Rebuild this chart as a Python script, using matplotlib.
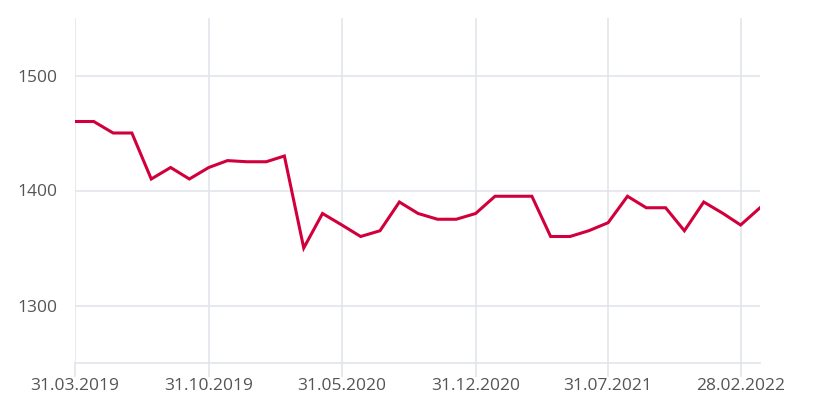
import matplotlib.pyplot as plt
import matplotlib.dates as mdates
import pandas as pd

# monthly values, end of month, 03.2019 .. 03.2022
dates = pd.date_range('2019-03-31', periods=37, freq='ME')
values = [1460, 1460, 1450, 1450, 1410, 1420, 1410, 1420, 1426, 1425,
          1425, 1430, 1350, 1380, 1370, 1360, 1365, 1390, 1380, 1375,
          1375, 1380, 1395, 1395, 1395, 1360, 1360, 1365, 1372, 1395,
          1385, 1385, 1365, 1390, 1380, 1370, 1385]
tick_dates = dates[::7]
y_ticks = [1300, 1400, 1500]

grid_col = '#e1e5ea'
text_col = '#555555'

plt.rcParams['font.family'] = ['Open Sans', 'DejaVu Sans']

fig = plt.figure(figsize=(8.16, 4.12), dpi=100)
ax = fig.add_axes([75 / 816, 1 - 363 / 412, 685 / 816, 345 / 412])

ax.plot(dates, values, color='#d1003c', lw=2.2, solid_joinstyle='miter', zorder=3)

ax.set_xlim(dates[0], dates[-1])
ax.set_ylim(1250, 1550)
ax.set_xticks(tick_dates)
ax.xaxis.set_major_formatter(mdates.DateFormatter('%d.%m.%Y'))
ax.set_yticks(y_ticks)

ax.grid(True, color=grid_col, lw=1.2)
ax.set_axisbelow(True)
for s in ['top', 'right', 'left']:
    ax.spines[s].set_visible(False)
ax.spines['bottom'].set_color(grid_col)
ax.spines['bottom'].set_linewidth(1.2)

ax.tick_params(axis='x', length=10, width=1.2, color=grid_col, labelsize=12.5,
               labelcolor=text_col, pad=1)
ax.tick_params(axis='y', length=0, labelsize=12.5, labelcolor=text_col, pad=13)

fig.savefig('out.png', dpi=100)
